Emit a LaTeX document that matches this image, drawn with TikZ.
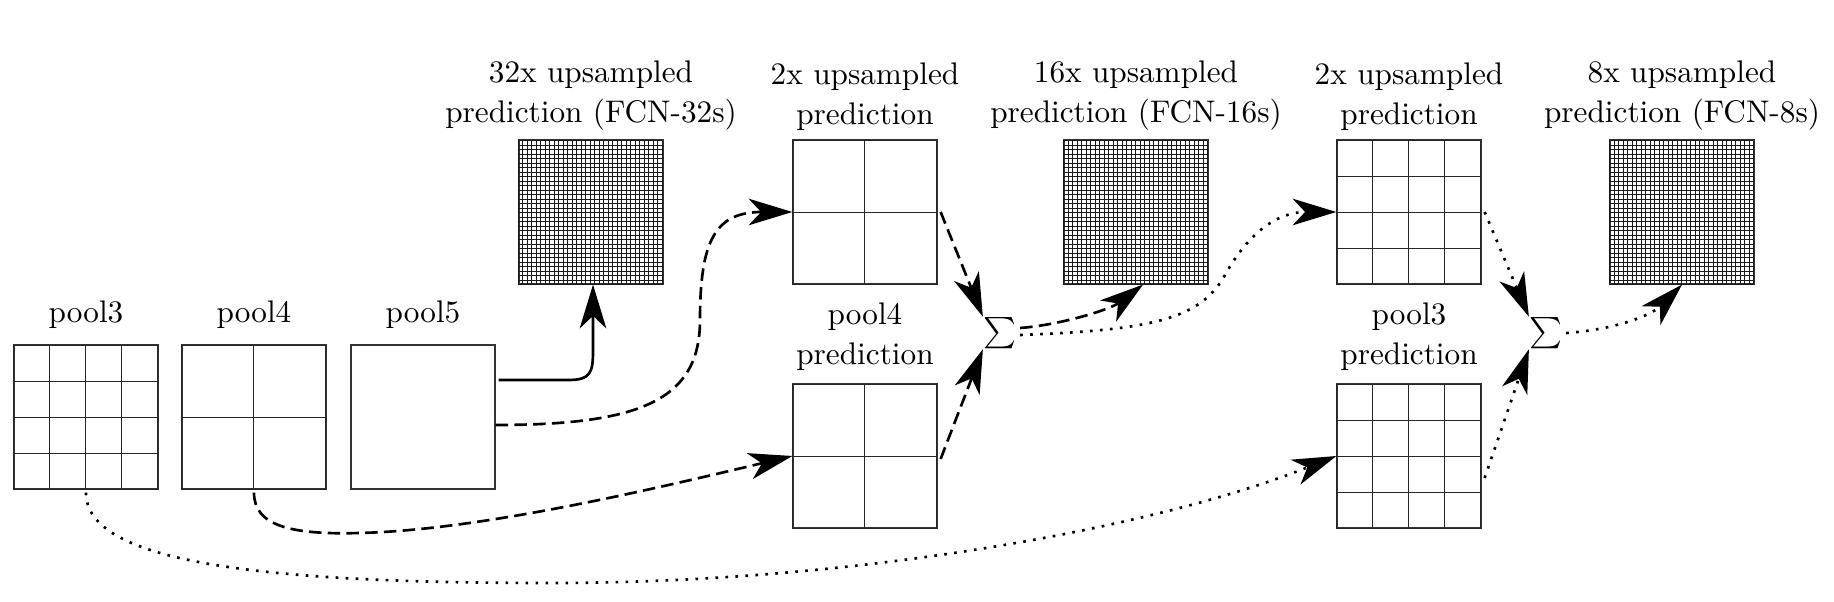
\documentclass[tikz,border=0pt]{standalone}
\usetikzlibrary{arrows.meta,calc}
\tikzset{
  fmap/.style={draw=black!80, line width=0.4pt, minimum size=46.08pt, inner sep=0pt},
  gridline/.style={draw=black!85, line width=0.35pt},
  finegrid/.style={draw=black!90, line width=0.25pt},
  lbl/.style={anchor=south, inner sep=0pt, align=center, font=\normalsize},
  sumnode/.style={inner sep=0pt, font=\fontsize{11}{13}\selectfont},
  conn/.style={line width=0.85pt, -{Stealth[length=14pt,width=8.5pt,inset=4pt]}},
  dashconn/.style={conn, dash pattern=on 4pt off 2pt},
  dotconn/.style={conn, dash pattern=on 0.85pt off 2.35pt},
}
\newcommand{\fmgrid}[4]{%
  \begin{scope}[shift={(#1.south west)}, x=#3, y=#3]
    \draw[#4, step=1] (0,0) grid (#2,#2);
  \end{scope}}
\begin{document}
\begin{tikzpicture}[x=0.32pt, y=-0.32pt]
\useasboundingbox (0,0) rectangle (1834,602);

% feature maps
\node[fmap] (pool3) at (86,417) {};
\node[fmap] (pool4) at (254,417) {};
\node[fmap] (pool5) at (423,417) {};
\node[fmap] (p32) at (591,212) {};
\node[fmap] (up2) at (865,212) {};
\node[fmap] (pred4) at (865,456) {};
\node[fmap] (p16) at (1136,212) {};
\node[fmap] (up4) at (1409,212) {};
\node[fmap] (pred3) at (1409,456) {};
\node[fmap] (p8) at (1682,212) {};

\fmgrid{pool3}{4}{11.52pt}{gridline}
\fmgrid{pool4}{2}{23.04pt}{gridline}
\fmgrid{p32}{32}{1.44pt}{finegrid}
\fmgrid{up2}{2}{23.04pt}{gridline}
\fmgrid{pred4}{2}{23.04pt}{gridline}
\fmgrid{p16}{32}{1.44pt}{finegrid}
\fmgrid{up4}{4}{11.52pt}{gridline}
\fmgrid{pred3}{4}{11.52pt}{gridline}
\fmgrid{p8}{32}{1.44pt}{finegrid}

% labels
\node[lbl] (lpool3) at ([shift={(0,-15)}]pool3.north) {pool3};
\node[lbl] (lpool4) at ([shift={(0,-15)}]pool4.north) {pool4};
\node[lbl] (lpool5) at ([shift={(0,-15)}]pool5.north) {pool5};
\node[lbl] (lp32) at ([shift={(0,-8)}]p32.north) {32x upsampled\\[0.8pt]prediction (FCN-32s)};
\node[lbl] (lup2) at ([shift={(0,-8)}]up2.north) {2x upsampled\\[0.8pt]prediction};
\node[lbl] (lpred4) at ([shift={(0,-12)}]pred4.north) {pool4\\[0.8pt]prediction};
\node[lbl] (lp16) at ([shift={(0,-8)}]p16.north) {16x upsampled\\[0.8pt]prediction (FCN-16s)};
\node[lbl] (lup4) at ([shift={(0,-8)}]up4.north) {2x upsampled\\[0.8pt]prediction};
\node[lbl] (lpred3) at ([shift={(0,-12)}]pred3.north) {pool3\\[0.8pt]prediction};
\node[lbl] (lp8) at ([shift={(0,-8)}]p8.north) {8x upsampled\\[0.8pt]prediction (FCN-8s)};

% sums
\node[sumnode] (s1) at (1000,333) {$\sum$};
\node[sumnode] (s2) at (1546,333) {$\sum$};

% helper coordinates
\coordinate (b1) at (700,320);
\coordinate (c1) at (360,533);
\coordinate (d1) at (550,583);
\coordinate (h1) at (1225,275);

% connectors
\draw[conn] ([shift={(3,-37)}]pool5.east) -- ++(70,0)
  .. controls +(22,0) and +(0,22) .. ([shift={(2,66)}]p32.south)
  -- ([shift={(2,0)}]p32.south);
\draw[dashconn] ([shift={(0,8)}]pool5.east)
  .. controls +(145,0) and +(0,80) .. (b1)
  .. controls +(0,-80) and +(-77,0) .. (up2.west);
\draw[dashconn] ([shift={(0,3)}]pool4.south)
  .. controls +(0,33) and +(-70,2) .. (c1)
  .. controls +(120,-3) and +(-143,34) .. (pred4.west);
\draw[dotconn] ([shift={(0,3)}]pool3.south)
  .. controls +(0,68) and +(-300,0) .. (d1)
  .. controls +(300,0) and +(-187,74) .. (pred3.west);
\draw[dashconn] ([shift={(3,0)}]up2.east) -- (s1.north west);
\draw[dashconn] ([shift={(3,3)}]pred4.east) -- (s1.south west);
\draw[dashconn] ([shift={(3,-5)}]s1.east)
  .. controls +(40,-3) and +(-33,25) .. ([shift={(7,0)}]p16.south);
\draw[dotconn] ([shift={(3,2)}]s1.east)
  .. controls +(130,-5) and +(-25,45) .. (h1)
  .. controls +(25,-45) and +(-57,0) .. (up4.west);
\draw[dotconn] ([shift={(3,0)}]up4.east) -- (s2.north west);
\draw[dotconn] ([shift={(3,22)}]pred3.east) -- (s2.south west);
\draw[dotconn] ([shift={(3,0)}]s2.east)
  .. controls +(45,-3) and +(-32,32) .. (p8.south);
\end{tikzpicture}
\end{document}
